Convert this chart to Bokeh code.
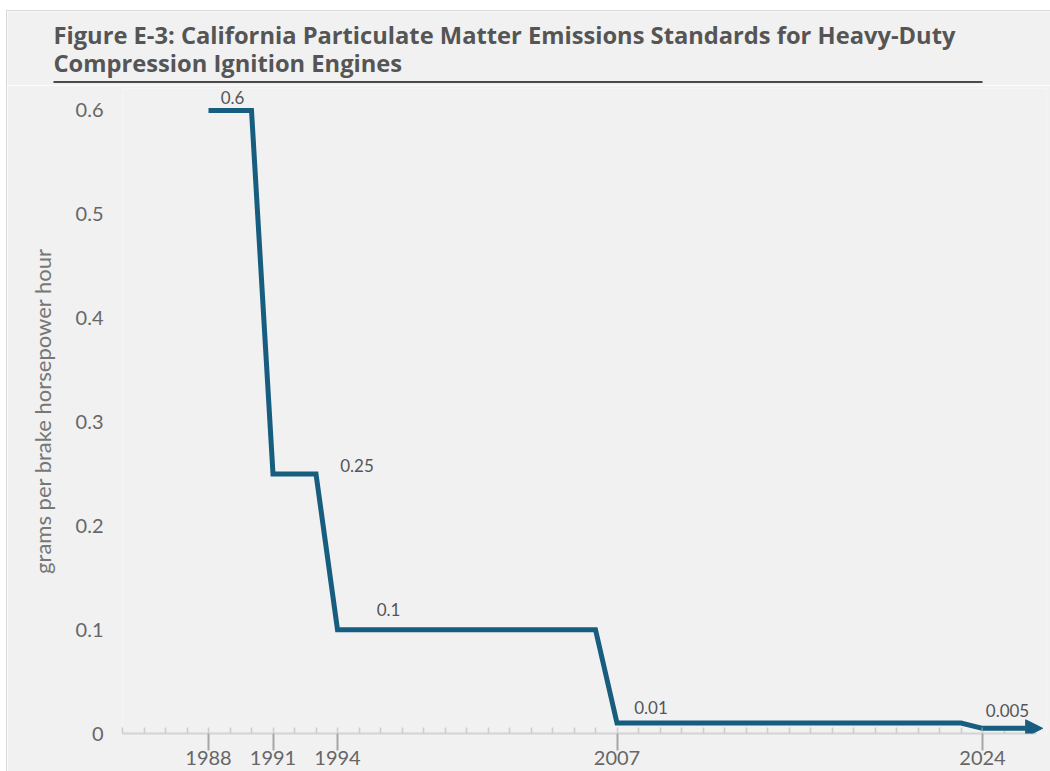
from bokeh.plotting import figure
from bokeh.layouts import column
from bokeh.models import FixedTicker, Label, Arrow, NormalHead
from bokeh.core.properties import value
from bokeh.embed import file_html
from bokeh.resources import INLINE

# ---- data ----
standard_years = [1988, 1991, 1994, 2007, 2024]
pm_standards = [0.6, 0.25, 0.1, 0.01, 0.005]
value_labels = ["0.6", "0.25", "0.1", "0.01", "0.005"]
x_tick_years = [1988, 1991, 1994, 2007, 2024]
y_ticks = [0, 0.1, 0.2, 0.3, 0.4, 0.5, 0.6]
y_tick_labels = ["0", "0.1", "0.2", "0.3", "0.4", "0.5", "0.6"]
minor_years = list(range(1984, 2026))

title_lines = ["Figure E-3: California Particulate Matter Emissions Standards for Heavy-Duty",
               "Compression Ignition Engines"]
y_label = "grams per brake horsepower hour"

# ---- style / layout ----
LINE = "#175d7f"
BG = "#f1f1f1"
FONT = "Lato"
TITLE_FONT = "Open Sans"
label_dx = [24, 84, 51, 34, 25]
label_dy = [13, 8, 20, 16, 18]
arrow_end = 2026.8
axis_end = 2026.5

# ---------- title strip (its own frame, page-pixel coordinates) ----------
t = figure(width=1043, height=74, x_range=(7, 1050), y_range=(85, 11),
           output_backend="svg", toolbar_location=None,
           x_axis_type=None, y_axis_type=None, min_border=0,
           background_fill_color=BG, border_fill_color=BG, outline_line_color=None)
t.frame_align = False
t.xgrid.visible = False
t.ygrid.visible = False
t.text(x=[53, 53], y=[34.5, 62.5], text=title_lines, text_font=value(TITLE_FONT),
       text_font_style="bold", text_font_size="23.7px", text_color="#555555",
       text_baseline="middle", text_align="left")
t.segment(x0=[53], y0=[81.5], x1=[982], y1=[81.5], line_color="#4a4a4a", line_width=2)

# ---------- main chart ----------
xs, ys = [], []
for i, (yr, v) in enumerate(zip(standard_years, pm_standards)):
    xs.append(yr); ys.append(v)
    if i + 1 < len(standard_years):
        xs.append(standard_years[i + 1] - 1); ys.append(v)

p = figure(width=1043, height=686, x_range=(1984, 1984 + 924 / 21.5), y_range=(0, 645 / 1038.5),
           output_backend="svg", toolbar_location=None,
           min_border_left=115, min_border_right=4, min_border_top=3, min_border_bottom=38,
           background_fill_color=BG, border_fill_color=BG, outline_line_color=None)
p.frame_align = False
p.xgrid.visible = False
p.ygrid.visible = False

p.line(xs, ys, line_width=5, line_color=LINE, line_join="miter")
p.add_layout(Arrow(end=NormalHead(size=17, fill_color=LINE, line_color=LINE, line_width=1),
                   x_start=standard_years[-1], y_start=pm_standards[-1],
                   x_end=arrow_end, y_end=pm_standards[-1],
                   line_color=LINE, line_width=5))

xa = p.xaxis[0]
xa.ticker = FixedTicker(ticks=x_tick_years, minor_ticks=minor_years)
xa.major_label_overrides = {y: str(y) for y in x_tick_years}
xa.bounds = (minor_years[0], axis_end)
xa.axis_line_color = "#d4d4d4"
xa.axis_line_width = 2
xa.major_tick_line_color = "#a6a6a6"
xa.major_tick_line_width = 2
xa.major_tick_in = 0
xa.major_tick_out = 17
xa.minor_tick_line_color = "#cccccc"
xa.minor_tick_line_width = 1.5
xa.minor_tick_in = 6
xa.minor_tick_out = 0
xa.major_label_standoff = 0
xa.major_label_text_font = FONT
xa.major_label_text_font_size = "20px"
xa.major_label_text_color = "#666666"

ya = p.yaxis[0]
ya.ticker = FixedTicker(ticks=y_ticks)
ya.major_label_overrides = {tk: lb for tk, lb in zip(y_ticks, y_tick_labels)}
ya.axis_line_color = None
ya.major_tick_line_color = None
ya.minor_tick_line_color = None
ya.major_tick_in = 0
ya.major_tick_out = 0
ya.minor_tick_in = 0
ya.minor_tick_out = 0
ya.major_label_standoff = 19
ya.major_label_text_font = FONT
ya.major_label_text_font_size = "20px"
ya.major_label_text_color = "#666666"
ya.axis_label = y_label
ya.axis_label_text_font = FONT
ya.axis_label_text_font_style = "normal"
ya.axis_label_text_font_size = "22px"
ya.axis_label_text_color = "#777777"
ya.axis_label_standoff = 17

for yr, v, txt, dx, dy in zip(standard_years, pm_standards, value_labels, label_dx, label_dy):
    p.add_layout(Label(x=yr, y=v, x_offset=dx, y_offset=dy, text=txt,
                       text_align="center", text_baseline="middle",
                       text_font=FONT, text_font_size="17px", text_color="#555555"))

layout = column(t, p, margin=(10, 0, 0, 6), spacing=0,
                styles={"border-left": "1px solid #d8d8d8", "border-top": "1px solid #d8d8d8"})
open("out.html", "w").write(file_html(layout, INLINE))
